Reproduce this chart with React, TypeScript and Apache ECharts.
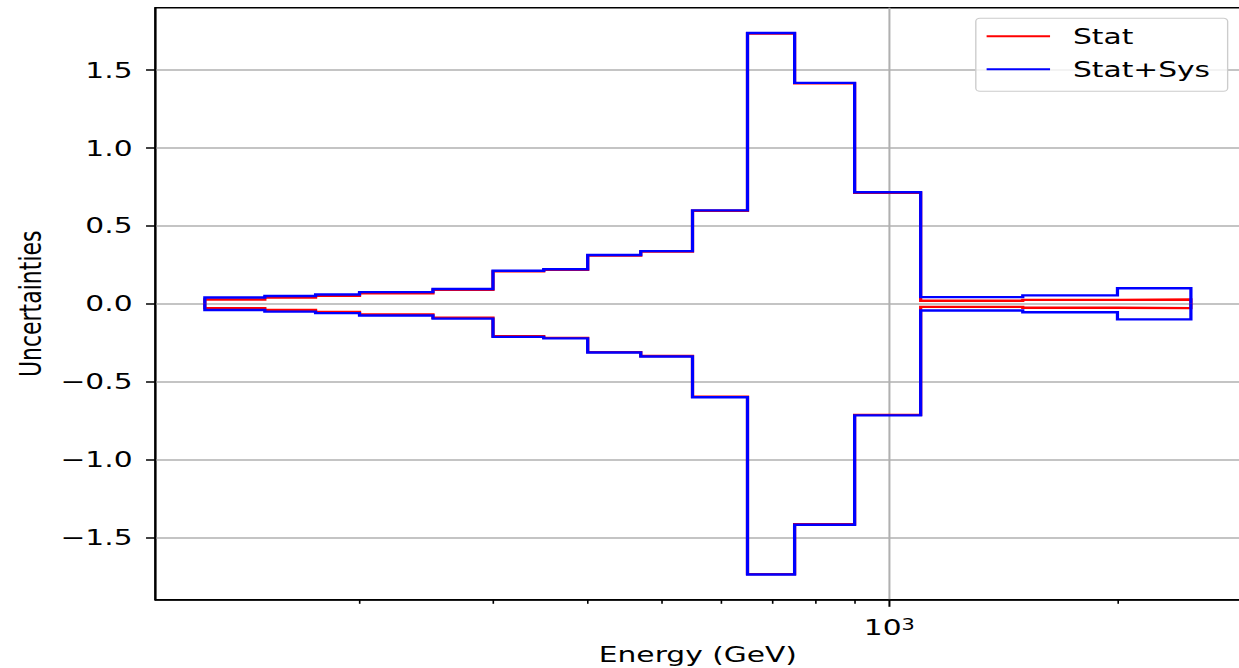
import React, { useEffect, useRef } from "react";
import * as echarts from "echarts";

// ---- data ----
const binEdges = [125, 150, 175, 200, 250, 300, 350, 400, 470, 550, 650, 750, 900, 1100, 1500, 2000, 2500];
const statSysValues = [0.04, 0.05, 0.06, 0.075, 0.095, 0.212, 0.222, 0.313, 0.338, 0.6, 1.738, 1.418, 0.716, 0.043, 0.054, 0.1];
const statValues = [0.028, 0.04, 0.052, 0.068, 0.09, 0.208, 0.219, 0.31, 0.335, 0.597, 1.735, 1.415, 0.713, 0.02, 0.025, 0.028];
const yTickValues = [-1.5, -1.0, -0.5, 0.0, 0.5, 1.0, 1.5];
const xMinorTicks = [200, 300, 400, 500, 600, 700, 800, 900, 2000];
const xMajorTicks = [1000];
const xMajorBase = ["10"];
const xMajorExponent = ["3"];
const seriesNames = ["Stat", "Stat+Sys"];

// histogram "step" outline (starts and ends at zero like histtype='step')
function stepOutline(edges: number[], values: number[], sign: number) {
  const pts: number[][] = [[edges[0], 0]];
  values.forEach((v, i) => {
    pts.push([edges[i], sign * v]);
    pts.push([edges[i + 1], sign * v]);
  });
  pts.push([edges[edges.length - 1], 0]);
  return pts;
}

const W = 918;
const H = 668;
const S = 1239 / W;
const FONT = "'DejaVu Sans', 'Liberation Sans', sans-serif";

export default function App() {
  const ref = useRef<HTMLDivElement>(null);
  useEffect(() => {
    document.body.style.margin = "0";
    document.documentElement.style.overflow = "hidden";
    const chart = echarts.init(ref.current!, null, { renderer: "svg" });
    const lineSeries = (name: string, color: string, values: number[], sign: number) => ({
      name,
      type: "line",
      data: stepOutline(binEdges, values, sign),
      symbol: "none",
      silent: true,
      lineStyle: { color, width: 2.4, join: "miter", cap: "butt" },
      itemStyle: { color },
    });
    const axisTextStyle = { fontSize: 22, fontFamily: FONT, color: "#000" };
    chart.setOption({
      animation: false,
      backgroundColor: "#fff",
      grid: {
        left: 115.2,
        top: 7.8,
        width: 803.7,
        height: 592,
        show: true,
        borderColor: "#000",
        borderWidth: 1.5,
        backgroundColor: "transparent",
        containLabel: false,
        outerBoundsMode: "none",
      },
      legend: {
        data: seriesNames,
        orient: "vertical",
        left: 723,
        top: 18.3,
        icon: "rect",
        itemWidth: 47,
        itemHeight: 2,
        itemGap: 11,
        padding: [7, 13, 11, 8],
        borderColor: "#cccccc",
        borderWidth: 1,
        borderRadius: 3,
        backgroundColor: "rgba(255,255,255,0.8)",
        textStyle: { fontSize: 22, fontFamily: FONT, color: "#000", lineHeight: 22, padding: [0, 0, 0, 12] },
      },
      xAxis: [
        {
          type: "log",
          logBase: 10,
          min: 107.6,
          max: 2904,
          position: "bottom",
          axisLine: { show: true, onZero: false, lineStyle: { color: "#000", width: 1.5 } },
          axisTick: { show: true, customValues: xMinorTicks, length: 4, lineStyle: { color: "#000", width: 1.2 } },
          axisLabel: { show: false },
          splitLine: { show: false },
          minorTick: { show: false },
        },
        {
          type: "log",
          logBase: 10,
          min: 107.6,
          max: 2904,
          position: "bottom",
          axisLine: { show: false, onZero: false },
          axisTick: { show: true, customValues: xMajorTicks, length: 7, lineStyle: { color: "#000", width: 1.5 } },
          axisLabel: {
            show: true,
            customValues: xMajorTicks,
            margin: 17,
            ...axisTextStyle,
            formatter: (v: number) => {
              const i = xMajorTicks.indexOf(Math.round(v));
              return i >= 0 ? `{b|${xMajorBase[i]}}{s|${xMajorExponent[i]}}` : "";
            },
            rich: {
              b: { fontSize: 22, fontFamily: FONT, color: "#000", lineHeight: 22 },
              s: { fontSize: 15.5, fontFamily: FONT, color: "#000", lineHeight: 15, verticalAlign: "top" },
            },
          },
          splitLine: { show: true, lineStyle: { color: "#b0b0b0", width: 1.5 } },
          name: "Energy (GeV)",
          nameLocation: "middle",
          nameGap: 43,
          nameTextStyle: axisTextStyle,
        },
      ],
      yAxis: {
        type: "value",
        min: -1.9,
        max: 1.9,
        axisLine: { show: true, onZero: false, lineStyle: { color: "#000", width: 1.5 } },
        axisTick: { show: true, customValues: yTickValues, length: 7, lineStyle: { color: "#000", width: 1.5 } },
        axisLabel: {
          show: true,
          customValues: yTickValues,
          margin: 17,
          ...axisTextStyle,
          formatter: (v: number) => (v < 0 ? "\u2212" + Math.abs(v).toFixed(1) : Math.abs(v).toFixed(1)),
        },
        splitLine: { show: true, lineStyle: { color: "#b0b0b0", width: 1.5 } },
        name: "Uncertainties",
        nameLocation: "middle",
        nameGap: 79,
        nameTextStyle: axisTextStyle,
      },
      series: [
        lineSeries(seriesNames[0], "#ff0000", statValues, 1),
        lineSeries(seriesNames[0], "#ff0000", statValues, -1),
        lineSeries(seriesNames[1], "#0000ff", statSysValues, 1),
        lineSeries(seriesNames[1], "#0000ff", statSysValues, -1),
      ],
    });
    return () => chart.dispose();
  }, []);
  return (
    <div
      ref={ref}
      style={{
        position: "absolute",
        left: 0,
        top: 0,
        width: W,
        height: H,
        transform: `scaleX(${S})`,
        transformOrigin: "0 0",
      }}
    />
  );
}
